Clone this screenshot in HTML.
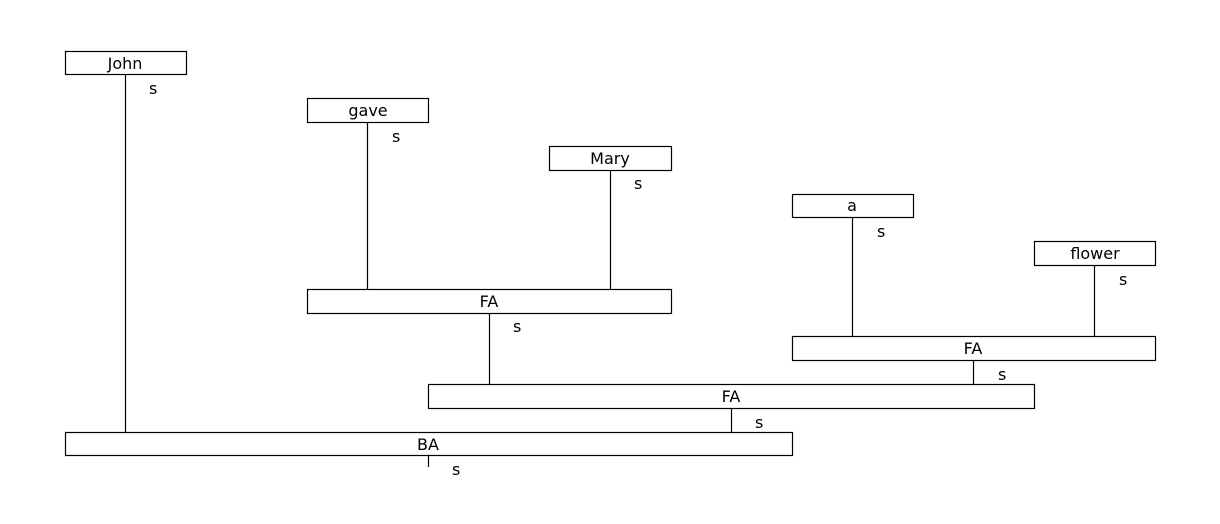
<!DOCTYPE html>
<html><head><meta charset="utf-8"><style>
html,body{margin:0;padding:0;background:#fff;}
svg text{font-family:"DejaVu Sans","Liberation Sans",sans-serif;font-size:16px;fill:#000;}
</style></head><body>
<svg width="1220" height="519" viewBox="0 0 1220 519" xmlns="http://www.w3.org/2000/svg">
<g fill="none" stroke="#000" stroke-width="1.2">
<rect x="65.5" y="51.5" width="121" height="23"/>
<rect x="307.5" y="98.5" width="121" height="24"/>
<rect x="549.5" y="146.5" width="122" height="24"/>
<rect x="792.5" y="194.5" width="121" height="23"/>
<rect x="1034.5" y="241.5" width="121" height="24"/>
<rect x="307.5" y="289.5" width="364" height="24"/>
<rect x="792.5" y="336.5" width="363" height="24"/>
<rect x="428.5" y="384.5" width="606" height="24"/>
<rect x="65.5" y="432.5" width="727" height="23"/>
<line x1="125.5" y1="75" x2="125.5" y2="432"/>
<line x1="367.5" y1="123" x2="367.5" y2="289"/>
<line x1="610.5" y1="171" x2="610.5" y2="289"/>
<line x1="852.5" y1="218" x2="852.5" y2="336"/>
<line x1="1094.5" y1="266" x2="1094.5" y2="336"/>
<line x1="489.5" y1="314" x2="489.5" y2="384"/>
<line x1="973.5" y1="361" x2="973.5" y2="384"/>
<line x1="731.5" y1="409" x2="731.5" y2="432"/>
<line x1="428.5" y1="456" x2="428.5" y2="467"/>
</g>
<g text-anchor="middle">
<text x="125" y="69">John</text>
<text x="368" y="116">gave</text>
<text x="610" y="164">Mary</text>
<text x="852" y="211">a</text>
<text x="1095" y="259">flower</text>
<text x="489" y="307">FA</text>
<text x="973" y="354">FA</text>
<text x="731" y="402">FA</text>
<text x="428" y="450">BA</text>
</g>
<g>
<text x="149" y="94">s</text>
<text x="392" y="142">s</text>
<text x="634" y="189">s</text>
<text x="877" y="237">s</text>
<text x="1119" y="285">s</text>
<text x="513" y="332">s</text>
<text x="998" y="380">s</text>
<text x="755" y="428">s</text>
<text x="452" y="475">s</text>
</g>
</svg>
</body></html>
